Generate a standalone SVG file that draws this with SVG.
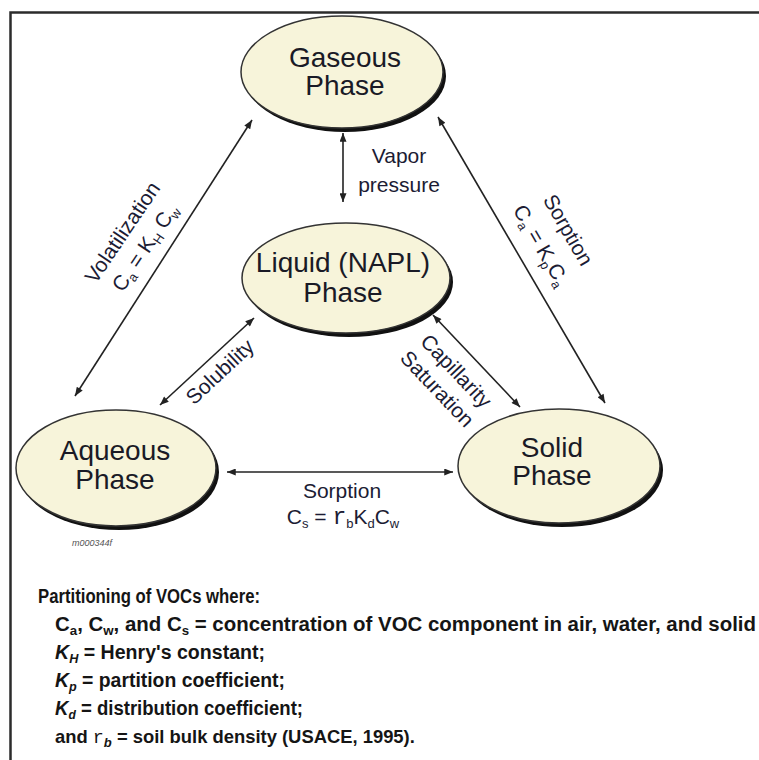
<svg xmlns="http://www.w3.org/2000/svg" width="759" height="760" viewBox="0 0 759 760">
<defs>
<marker id="ah" viewBox="0 0 10 8" refX="10" refY="4" markerWidth="10" markerHeight="7" markerUnits="userSpaceOnUse" orient="auto-start-reverse">
<path d="M0,0 L10,4 L0,8 z" fill="#222"/>
</marker>
<style>
.bg{fill:#F7F4DA;stroke:#333;stroke-width:1.5}
.sh{fill:#111}
.nt{font-family:"Liberation Sans",Arial,sans-serif;font-size:28px;fill:#1a1a26;text-anchor:middle}
.lbl{font-family:"Liberation Sans",Arial,sans-serif;font-size:21px;fill:#1c1c34;text-anchor:middle}
.conn line{stroke:#222;stroke-width:1.6;marker-start:url(#ah);marker-end:url(#ah)}
.leg{font-family:"Liberation Sans",Arial,sans-serif;font-size:20px;font-weight:bold;fill:#151515}
.sub{font-size:13px}
.mono{font-family:"Liberation Mono","Courier New",monospace;font-weight:normal}
</style>
</defs>
<rect width="759" height="760" fill="#ffffff"/>
<rect x="10.5" y="12.5" width="800" height="800" fill="none" stroke="#2b2b2b" stroke-width="2.5"/>

<g id="connectors" class="conn">
<line x1="343" y1="133" x2="343" y2="202"/>
<line x1="252" y1="120" x2="75" y2="396"/>
<line x1="438" y1="117" x2="605" y2="403"/>
<line x1="254" y1="318" x2="160" y2="405"/>
<line x1="433" y1="315" x2="520" y2="407"/>
<line x1="227" y1="472" x2="453" y2="472"/>
</g>

<g id="gaseous">
<ellipse class="sh" cx="345" cy="76" rx="101" ry="56"/>
<ellipse class="bg" cx="342" cy="72" rx="101" ry="56"/>
<text class="nt" x="345" y="67">Gaseous</text>
<text class="nt" x="345" y="95">Phase</text>
</g>
<g id="liquid">
<ellipse class="sh" cx="349" cy="282" rx="104" ry="55"/>
<ellipse class="bg" cx="346" cy="278" rx="104" ry="55"/>
<text class="nt" x="343" y="272">Liquid (NAPL)</text>
<text class="nt" x="343" y="302">Phase</text>
</g>
<g id="aqueous">
<ellipse class="sh" cx="119" cy="472" rx="100" ry="58"/>
<ellipse class="bg" cx="116" cy="468" rx="100" ry="58"/>
<text class="nt" x="115" y="460">Aqueous</text>
<text class="nt" x="115" y="489">Phase</text>
</g>
<g id="solid">
<ellipse class="sh" cx="562" cy="470" rx="101" ry="57"/>
<ellipse class="bg" cx="559" cy="466" rx="101" ry="57"/>
<text class="nt" x="552" y="457">Solid</text>
<text class="nt" x="552" y="485">Phase</text>
</g>

<g id="labels">
<text class="lbl" x="399" y="163">Vapor</text>
<text class="lbl" x="399" y="192">pressure</text>
<g transform="translate(122.5,232.5) rotate(-56)">
<text class="lbl" x="0" y="7">Volatilization</text>
<text class="lbl" x="0" y="34">C<tspan class="sub" dy="4">a</tspan><tspan dy="-4"> = K</tspan><tspan class="sub" dy="4">H</tspan><tspan dy="-4"> C</tspan><tspan class="sub" dy="4">w</tspan></text>
</g>
<g transform="translate(568,230) rotate(60)">
<text class="lbl" x="0" y="7">Sorption</text>
<text class="lbl" x="0" y="38">C<tspan class="sub" dy="4">a</tspan><tspan dy="-4"> = K</tspan><tspan class="sub" dy="4">p</tspan><tspan dy="-4">C</tspan><tspan class="sub" dy="4">a</tspan></text>
</g>
<g transform="translate(220,372) rotate(-43)">
<text class="lbl" x="0" y="7">Solubility</text>
</g>
<g transform="translate(456,371) rotate(46.5)">
<text class="lbl" x="0" y="7">Capillarity</text>
<text class="lbl" x="0" y="33">Saturation</text>
</g>
<text class="lbl" x="342" y="498">Sorption</text>
<text class="lbl" x="343" y="524">C<tspan class="sub" dy="4">s</tspan><tspan dy="-4"> = </tspan><tspan font-family="Liberation Mono,monospace" font-size="23">r</tspan><tspan class="sub" dy="4">b</tspan><tspan dy="-4">K</tspan><tspan class="sub" dy="4">d</tspan><tspan dy="-4">C</tspan><tspan class="sub" dy="4">w</tspan></text>
<text x="72" y="546" font-family="Liberation Sans,Arial,sans-serif" font-size="9" font-style="italic" fill="#555">m000344f</text>
</g>

<g id="legend">
<text class="leg" x="38" y="603" textLength="222" lengthAdjust="spacingAndGlyphs">Partitioning of VOCs where:</text>
<text class="leg" x="55" y="631" textLength="701" lengthAdjust="spacingAndGlyphs">C<tspan class="sub" dy="4">a</tspan><tspan dy="-4">, C</tspan><tspan class="sub" dy="4">w</tspan><tspan dy="-4">, and C</tspan><tspan class="sub" dy="4">s</tspan><tspan dy="-4"> = concentration of VOC component in air, water, and solid</tspan></text>
<text class="leg" x="55" y="659" textLength="210" lengthAdjust="spacingAndGlyphs"><tspan font-style="italic">K</tspan><tspan class="sub" font-style="italic" dy="4">H</tspan><tspan dy="-4"> = Henry's constant;</tspan></text>
<text class="leg" x="55" y="687" textLength="230" lengthAdjust="spacingAndGlyphs"><tspan font-style="italic">K</tspan><tspan class="sub" font-style="italic" dy="4">p</tspan><tspan dy="-4"> = partition coefficient;</tspan></text>
<text class="leg" x="55" y="715" textLength="248" lengthAdjust="spacingAndGlyphs"><tspan font-style="italic">K</tspan><tspan class="sub" font-style="italic" dy="4">d</tspan><tspan dy="-4"> = distribution coefficient;</tspan></text>
<text class="leg" x="55" y="743" style="font-size:18.4px">and <tspan class="mono">r</tspan><tspan class="sub" font-style="italic" dy="4">b</tspan><tspan dy="-4"> = soil bulk density (USACE, 1995).</tspan></text>
</g>
</svg>
